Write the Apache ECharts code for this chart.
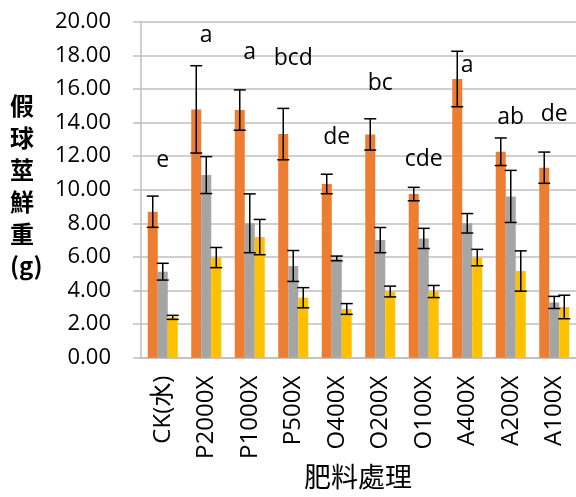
<!DOCTYPE html>
<html><head><meta charset="utf-8">
<script src="https://cdn.jsdelivr.net/npm/echarts@6/dist/echarts.min.js"></script>
<style>html,body{margin:0;padding:0;background:#fff}#c{width:576px;height:497px}</style>
</head><body><div id="c"></div>
<script>
const categories = ['CK(水)','P2000X','P1000X','P500X','O400X','O200X','O100X','A400X','A200X','A100X'];
const orangeVals = [8.69,14.78,14.74,13.31,10.34,13.29,9.74,16.59,12.26,11.31];
const orangeErr  = [0.93,2.60,1.20,1.53,0.58,0.93,0.40,1.65,0.82,0.93];
const grayVals   = [5.12,10.87,8.00,5.46,5.91,7.00,7.10,8.00,9.60,3.29];
const grayErr    = [0.50,1.10,1.75,0.92,0.14,0.75,0.60,0.58,1.55,0.36];
const yellowVals = [2.40,5.96,7.18,3.57,2.90,3.94,3.94,5.96,5.16,3.02];
const yellowErr  = [0.12,0.60,1.05,0.60,0.32,0.32,0.36,0.49,1.20,0.70];
const letters    = ['e','a','a','bcd','de','bc','cde','a','ab','de'];
const letterY    = [11.77,19.2,18.14,17.8,13.1,16.35,11.83,17.4,14.33,14.5];
const yTicks = {min:0, max:20, interval:2};

const BW = 10;
const FONT = '"Open Sans", "Noto Sans CJK TC", sans-serif';
function errSeries(vals, errs, k){
  return {
    type:'custom', z:10,
    data: vals.map((v,i)=>[i, v-errs[i], v+errs[i]]),
    renderItem: function(params, api){
      const lo = api.coord([api.value(0), api.value(1)]);
      const hi = api.coord([api.value(0), api.value(2)]);
      const x = lo[0] + (k-1)*BW;
      const cw = 6;
      const st = {stroke:'#000', lineWidth:1.5};
      return {type:'group', children:[
        {type:'line', shape:{x1:x,y1:lo[1],x2:x,y2:hi[1]}, style:st},
        {type:'line', shape:{x1:x-cw,y1:lo[1],x2:x+cw,y2:lo[1]}, style:st},
        {type:'line', shape:{x1:x-cw,y1:hi[1],x2:x+cw,y2:hi[1]}, style:st}
      ]};
    }
  };
}
const chart = echarts.init(document.getElementById('c'));
chart.setOption({
  animation:false,
  textStyle:{fontFamily:FONT},
  grid:{left:141, top:21.7, width:437, height:336, containLabel:false},
  xAxis:{
    type:'category', data:categories,
    axisLine:{lineStyle:{color:'#BFBFBF', width:1.5}},
    axisTick:{show:false},
    axisLabel:{rotate:90, fontSize:24, color:'#000', margin:18, fontFamily:FONT}
  },
  yAxis:{
    type:'value', min:yTicks.min, max:yTicks.max, interval:yTicks.interval,
    axisLine:{show:true, lineStyle:{color:'#BFBFBF', width:1.5}},
    axisTick:{show:true, length:8, lineStyle:{color:'#BFBFBF', width:1.5}},
    splitLine:{lineStyle:{color:'#BFBFBF', width:1.5}},
    axisLabel:{fontSize:22, color:'#000', margin:30, formatter:v=>v.toFixed(2), fontFamily:FONT}
  },
  series:[
    {type:'bar', data:orangeVals, barWidth:BW, barGap:'0%', itemStyle:{color:'#ED7D31'}},
    {type:'bar', data:grayVals, barWidth:BW, barGap:'0%', itemStyle:{color:'#A5A5A5'}},
    {type:'bar', data:yellowVals, barWidth:BW, barGap:'0%', itemStyle:{color:'#FFC000'}},
    errSeries(orangeVals, orangeErr, 0),
    errSeries(grayVals, grayErr, 1),
    errSeries(yellowVals, yellowErr, 2),
    {type:'scatter', symbolSize:0, z:20, itemStyle:{opacity:1, color:'#000'},
     data: letterY.map((y,i)=>[i,y]),
     label:{show:true, position:'inside', color:'#000', fontSize:23, fontFamily:FONT,
            textBorderWidth:0, textBorderColor:'transparent',
            formatter:p=>letters[p.dataIndex]}}
  ],
  graphic:[
    {type:'text', left:10, top:90, style:{text:'假\n球\n莖\n鮮\n重\n(g)', font:'bold 24px "Noto Sans CJK TC", sans-serif', lineHeight:32, fill:'#000', align:'center', width:28}},
    {type:'text', left:304, top:463, style:{text:'肥料處理', font:'27px "Noto Sans CJK TC", sans-serif', fill:'#000'}}
  ]
});
</script></body></html>
